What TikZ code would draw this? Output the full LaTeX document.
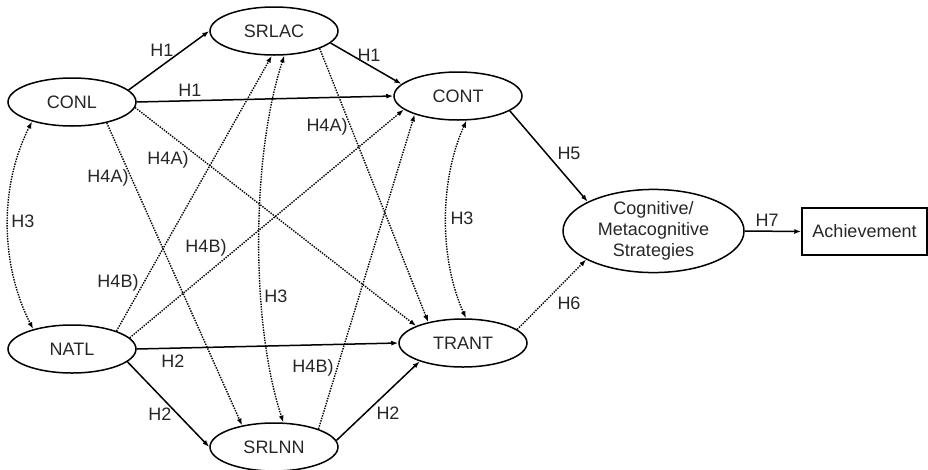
\documentclass[tikz,border=0pt]{standalone}
\usepackage{fontspec}
\setmainfont{Liberation Sans}
\usetikzlibrary{shapes.geometric,arrows.meta}
\begin{document}
\begin{tikzpicture}[x=1pt,y=1pt,
  every node/.style={font=\fontsize{18}{21}\selectfont, text=black!85},
  construct/.style={ellipse, draw, line width=1.5pt, minimum width=128pt, minimum height=48pt, inner sep=0pt},
  boxnode/.style={rectangle, draw, line width=1.5pt, minimum width=125pt, minimum height=47pt, inner sep=0pt},
  solidarrow/.style={line width=1.5pt, -{Latex[length=7pt,width=5pt]}},
  dotarrow/.style={line width=1.4pt, dash pattern=on 1.4pt off 1.2pt, -{Latex[length=7pt,width=5pt]}},
  dotboth/.style={line width=1.4pt, dash pattern=on 1.4pt off 1.2pt, {Latex[length=7pt,width=5pt]}-{Latex[length=7pt,width=5pt]}},
  lab/.style={inner sep=0pt}
]
\useasboundingbox (0,0) rectangle (928,-469);

% constructs
\node[construct] (conl) at (72,-102) {CONL};
\node[construct] (srlac) at (274,-31) {SRLAC};
\node[construct] (cont) at (458,-96) {CONT};
\node[construct] (natl) at (72,-349) {NATL};
\node[construct] (srlnn) at (274,-447) {SRLNN};
\node[construct] (trant) at (463,-343) {TRANT};
\node[construct, minimum width=181pt, minimum height=72pt, align=center] (cog) at (653.5,-231) {Cognitive/\\Metacognitive\\Strategies};
\node[boxnode] (ach) at (864.5,-231.5) {Achievement};

% solid paths
\draw[solidarrow] (conl.12) -- (srlac.west);
\draw[solidarrow] (conl.east) -- (cont.west);
\draw[solidarrow] (srlac.-12) -- (cont.168);
\draw[solidarrow] (natl.east) -- (trant.west);
\draw[solidarrow] (natl.-13) -- (srlnn.west);
\draw[solidarrow] (srlnn.6) -- (trant.203);
\draw[solidarrow] (cont.-16) -- (cog.156);
\draw[solidarrow] (cog.east) -- (ach.west);

% dotted paths
\draw[dotarrow] (trant.14) -- (cog.203);
\draw[dotarrow] (conl.-31) -- (srlnn.146);
\draw[dotarrow] (conl.-5) -- (trant.160);
\draw[dotarrow] (srlac.-21) -- (trant.149);
\draw[dotarrow] (natl.22) -- (srlac.265);
\draw[dotarrow] (natl.11) -- (cont.194);
\draw[dotarrow] (srlnn.22) -- (cont.203);

% curved H3 paths
\draw[dotboth] (conl.206) .. controls +(-33,-65) and +(-33,65) .. (natl.153);
\draw[dotboth] (cont.-71) .. controls +(-27,-60) and +(-27,60) .. (trant.83);
\draw[dotboth] (srlac.-67) .. controls +(-33,-100) and +(-33,100) .. (srlnn.69);

% labels
\node[lab] (l1) at (162,-50) {H1};
\node[lab] (l2) at (190,-90) {H1};
\node[lab] (l3) at (369,-55) {H1};
\node[lab] (l4) at (108,-178) {H4A)};
\node[lab] (l5) at (168,-160) {H4A)};
\node[lab] (l6) at (327,-127) {H4A)};
\node[lab] (l7) at (23,-221) {H3};
\node[lab] (l8) at (569,-153) {H5};
\node[lab] (l9) at (462,-218) {H3};
\node[lab] (l10) at (206,-248) {H4B)};
\node[lab] (l11) at (118,-283) {H4B)};
\node[lab] (l12) at (276,-296) {H3};
\node[lab] (l13) at (173,-361) {H2};
\node[lab] (l14) at (160,-414) {H2};
\node[lab] (l15) at (313,-368) {H4B)};
\node[lab] (l16) at (388,-413) {H2};
\node[lab] (l17) at (569,-303) {H6};
\node[lab] (l18) at (767,-220) {H7};
\end{tikzpicture}
\end{document}
